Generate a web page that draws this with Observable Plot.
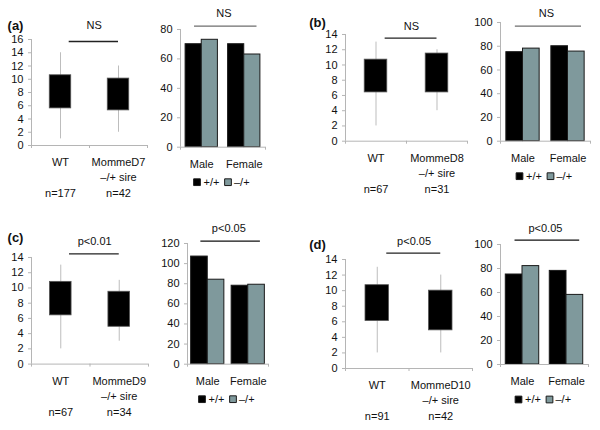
<!DOCTYPE html>
<html>
<head>
<meta charset="utf-8">
<script src="https://cdn.jsdelivr.net/npm/d3@7"></script>
<script src="https://cdn.jsdelivr.net/npm/@observablehq/plot@0.6"></script>
<style>
  html, body { margin: 0; padding: 0; background: #fff; }
  #root { position: relative; width: 600px; height: 430px; overflow: hidden; background: #fff; }
</style>
</head>
<body>
<div id="root"></div>
<script>
// ---------- data ----------
const panelLabels = ["(a)", "(b)", "(c)", "(d)"];
const strains = ["MommeD7", "MommeD8", "MommeD9", "MommeD10"];
const sireLabel = "–/+ sire";
const boxQ1 = [[5.6, 5.3], [6.4, 6.4], [6.4, 4.9], [6.1, 4.9]];
const boxQ3 = [[10.6, 10.1], [10.7, 11.5], [10.8, 9.5], [10.7, 10.0]];
const whiskerMin = [[1, 2], [2, 4], [2, 3], [2, 2]];
const whiskerMax = [[14, 12], [13, 12], [13, 11], [13, 12]];
const nCounts = [[177, 42], [67, 31], [67, 34], [91, 42]];
const boxTest = ["NS", "NS", "p<0.01", "p<0.05"];
const boxYMax = [16, 14, 14, 14];

const sexes = ["Male", "Female"];
const genotypes = ["+/+", "–/+"];
const barWT = [[70, 70], [75, 80], [107, 78], [75, 78]];
const barHet = [[73, 63], [78, 75.5], [84, 79], [82, 58]];
const barTest = ["NS", "NS", "p<0.05", "p<0.05"];
const barYMax = [80, 100, 120, 100];

// ---------- layout (pixels) ----------
const layout = [
  {box: {x0: 31, x1: 147, y0: 145, yTop: 39, br: 2, tx: 15.7, lab: [15, 20]},
   bar: {x0: 180, x1: 265, y0: 147, yTop: 29.3, br: -3.3, tx: 13, bw: 0.38, lc: "#6e6e6e"}},
  {box: {x0: 345, x1: 467, y0: 141, yTop: 34.3, br: 3.7, tx: 12, lab: [317, 18]},
   bar: {x0: 500, x1: 590, y0: 141, yTop: 22.3, br: 3.7, tx: 13, bw: 0.37, lc: "#6e6e6e"}},
  {box: {x0: 31, x1: 148, y0: 363.3, yTop: 256.7, br: -3.7, tx: 12, lab: [15, 232]},
   bar: {x0: 187, x1: 268, y0: 364, yTop: 243.3, br: -2.3, tx: 13, bw: 0.41, lc: "#111"}},
  {box: {x0: 345, x1: 472, y0: 368.3, yTop: 259.3, br: -6.3, tx: 12, lab: [317, 240]},
   bar: {x0: 500, x1: 588, y0: 364.3, yTop: 244.3, br: -4.3, tx: 12, bw: 0.38, lc: "#111"}}
];

const FONT = "'Liberation Sans', Arial, Helvetica, sans-serif";
const AXIS = "#b5b5b5";
const GRAY = "#7f999c";
const mL = 42, mR = 12, mT = 42, mB = 62;
const root = document.getElementById("root");

function place(svg, L) {
  svg.style.position = "absolute";
  svg.style.left = (L.x0 - mL) + "px";
  svg.style.top = (L.yTop - mT) + "px";
  root.appendChild(svg);
}

function common(L, ymax) {
  return {
    width: mL + (L.x1 - L.x0) + mR,
    height: mT + (L.y0 - L.yTop) + mB,
    marginLeft: mL, marginRight: mR, marginTop: mT, marginBottom: mB,
    x: {domain: [0, 2]},
    y: {domain: [0, ymax]},
    style: {fontFamily: FONT, fontSize: "11px", background: "transparent", overflow: "visible", color: "#111", maxWidth: "none"}
  };
}

for (let p = 0; p < 4; p++) {
  // ----- box plot -----
  const L = layout[p].box;
  const rows = [0, 1].map(i => ({
    i,
    label: i === 0 ? "WT" : strains[p],
    q1: boxQ1[p][i], q3: boxQ3[p][i],
    lo: whiskerMin[p][i], hi: whiskerMax[p][i],
    n: "n=" + nCounts[p][i]
  }));
  const hw = 0.185;
  const yticks = d3.range(0, boxYMax[p] + 1, 2);
  const boxSvg = Plot.plot({
    ...common(L, boxYMax[p]),
    marks: [
      Plot.ruleX(rows, {x: d => d.i + 0.5, y1: "lo", y2: "hi", stroke: "#bdbdbd", strokeWidth: 1}),
      Plot.rect(rows, {x1: d => d.i + 0.5 - hw, x2: d => d.i + 0.5 + hw, y1: "q1", y2: "q3", fill: "#000", stroke: "#555", strokeWidth: 0.8}),
      Plot.ruleX([0], {stroke: AXIS}),
      Plot.ruleY([0], {stroke: AXIS}),
      Plot.axisY({ticks: yticks, tickSize: 3, tickPadding: 5, stroke: AXIS, color: "#111", label: null, fontSize: 11}),
      Plot.axisX({ticks: [0, 1, 2], tickSize: 3, stroke: AXIS, tickFormat: () => "", label: null}),
      Plot.text(rows, {x: d => d.i + 0.5, y: () => 0, text: "label", dy: 17, fontSize: 11}),
      Plot.text([rows[1]], {x: d => d.i + 0.5, y: () => 0, text: () => sireLabel, dy: 32, fontSize: 11}),
      Plot.text(rows, {x: d => d.i + 0.5, y: () => 0, text: "n", dy: 48, fontSize: 11}),
      Plot.ruleY([boxYMax[p]], {x1: 0.65, x2: 1.5, dy: L.br, stroke: "#222", strokeWidth: 1.3}),
      Plot.text([boxTest[p]], {x: 1.08, y: () => boxYMax[p], text: d => d, dy: L.br - L.tx, fontSize: 11}),
      Plot.text([panelLabels[p]], {frameAnchor: "top-left", text: d => d,
        dx: L.lab[0] - L.x0, dy: L.lab[1] - L.yTop, fontSize: 13, fontWeight: "bold", textAnchor: "middle"})
    ]
  });
  place(boxSvg, L);

  // ----- bar chart -----
  const B = layout[p].bar;
  const bars = [];
  sexes.forEach((s, si) => {
    bars.push({sex: s, g: genotypes[0], x1: si + 0.5 - B.bw, x2: si + 0.5, v: barWT[p][si]});
    bars.push({sex: s, g: genotypes[1], x1: si + 0.5, x2: si + 0.5 + B.bw, v: barHet[p][si]});
  });
  const legDx = [[-26, -19.5], [5, 11]];
  const legendMarks = genotypes.flatMap((g, k) => [
    Plot.dot([g], {x: () => 1, y: () => 0, dx: legDx[k][0], dy: 35, fill: d => d, stroke: "#1a1a1a",
      strokeWidth: 1, symbol: "square", r: 3.8}),
    Plot.text([g], {x: () => 1, y: () => 0, dx: legDx[k][1], dy: 35, text: d => d, textAnchor: "start", fontSize: 11})
  ]);
  const barSvg = Plot.plot({
    ...common(B, barYMax[p]),
    color: {domain: genotypes, range: ["#000", GRAY]},
    marks: [
      Plot.rectY(bars, {x1: "x1", x2: "x2", y1: 0, y2: "v", fill: "g", stroke: "#1a1a1a", strokeWidth: 1}),
      Plot.ruleX([0], {stroke: AXIS}),
      Plot.ruleY([0], {stroke: AXIS}),
      Plot.axisY({ticks: d3.range(0, barYMax[p] + 1, 20), tickSize: 3, tickPadding: 5, stroke: AXIS, color: "#111", label: null, fontSize: 11}),
      Plot.axisX({ticks: [0, 2], tickSize: 3, stroke: AXIS, tickFormat: () => "", label: null}),
      Plot.text(sexes, {x: (d, i) => i + 0.5, y: () => 0, text: d => d, dy: 17, fontSize: 11}),
      Plot.ruleY([barYMax[p]], {x1: 0.33, x2: 1.8, dy: B.br, stroke: B.lc, strokeWidth: 1.3}),
      Plot.text([barTest[p]], {x: 1.02, y: () => barYMax[p], text: d => d, dy: B.br - B.tx, fontSize: 11}),
      ...legendMarks
    ]
  });
  place(barSvg, B);
}
</script>
</body>
</html>
